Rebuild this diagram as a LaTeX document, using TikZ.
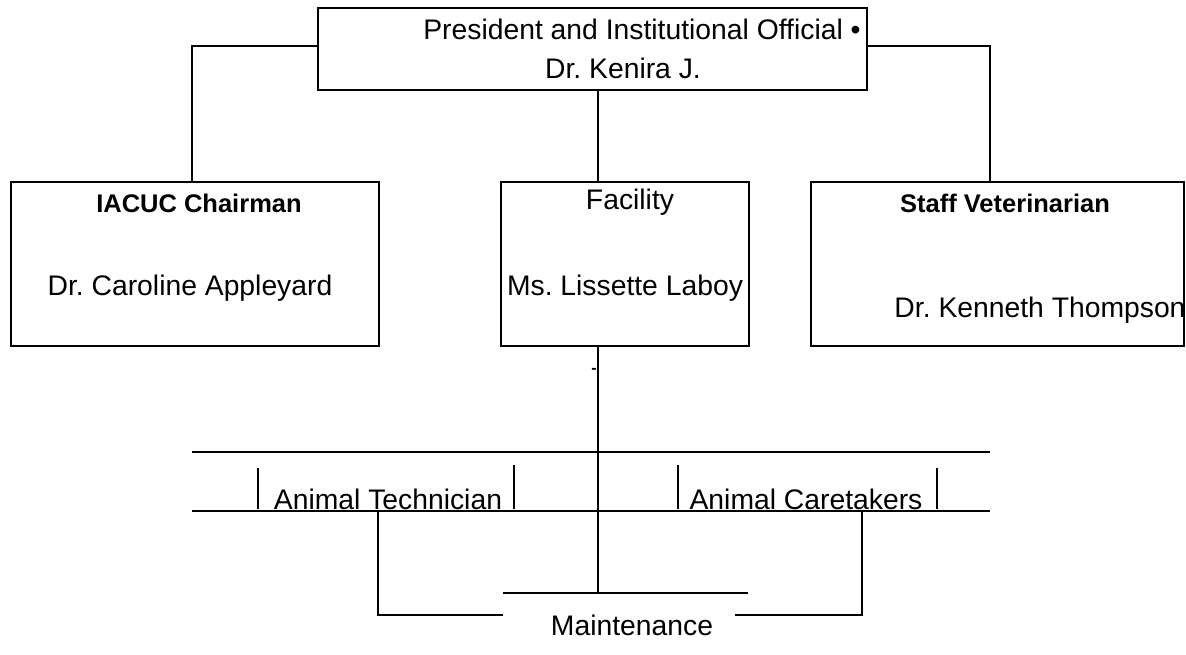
\documentclass[tikz,border=0pt]{standalone}
\usepackage{fontspec}
\setmainfont{Liberation Sans}
\frenchspacing
\begin{document}
\begin{tikzpicture}[x=1pt,y=-1pt,
  box/.style={draw,line width=2pt,anchor=north west,inner sep=0pt},
  conn/.style={line width=1.6pt},
  txt/.style={inner sep=0pt,anchor=base,font=\fontsize{28.3}{30}\selectfont},
  btxt/.style={inner sep=0pt,anchor=base,font=\fontsize{25.5}{28}\selectfont\bfseries}]
\useasboundingbox (0,0) rectangle (1186,654);
% boxes
\node[box,minimum width=549pt,minimum height=82pt] (top) at (317,7) {};
\node[box,minimum width=368pt,minimum height=164pt] (iacuc) at (10,181) {};
\node[box,minimum width=248pt,minimum height=164pt] (fac) at (500,181) {};
\node[box,minimum width=373pt,minimum height=164pt] (vet) at (810,181) {};
% texts
\node[txt] (t1) at (642,39) {President and Institutional Official •};
\node[txt] (t2) at (623,78) {Dr. Kenira J.};
\node[btxt] (i1) at (199,212) {IACUC Chairman};
\node[txt] (i2) at (190,295) {Dr. Caroline Appleyard};
\node[txt] (f1) at (630,209) {Facility};
\node[txt] (f2) at (625,295) {Ms. Lissette Laboy};
\node[btxt] (v1) at (1005,212) {Staff Veterinarian};
\node[txt] (v2) at (1040,317) {Dr. Kenneth Thompson};
\node[inner sep=0pt] (dot) at (594,371) {\fontsize{16}{16}\selectfont\bfseries -};
\node[txt] (tech) at (388,509) {Animal Technician};
\node[txt] (care) at (806,509) {Animal Caretakers};
\node[txt] (maint) at (632,635) {Maintenance};
% coordinates
\coordinate (c1) at (598,89);
\coordinate (c2) at (598,345);
\coordinate (m1) at (503,593);
\coordinate (m2) at (748,593);
\coordinate (h1a) at (192,452);
\coordinate (h1b) at (990,452);
\coordinate (h2a) at (192,511);
\coordinate (h2b) at (990,511);
\coordinate (la) at (378,511);
\coordinate (lb) at (503,615);
\coordinate (ra) at (862,511);
\coordinate (rb) at (735,615);
% connectors
\draw[conn] ([yshift=3pt]top.west) -| (iacuc.north -| h1a);
\draw[conn] ([yshift=3pt]top.east) -| (vet.north -| h1b);
\draw[conn] (c1) -- (c1 |- fac.north);
\draw[conn] (c2) -- (c2 |- m1);
\draw[conn] (m1) -- (m2);
\draw[conn] (h1a) -- (h1b);
\draw[conn] (h2a) -- (h2b);
\draw[conn] (la) |- (lb);
\draw[conn] (ra) |- (rb);
% small bars
\draw[conn] (258,468) -- (258,509);
\draw[conn] (514,465) -- (514,509);
\draw[conn] (678,465) -- (678,509);
\draw[conn] (937,468) -- (937,509);
\end{tikzpicture}
\end{document}
